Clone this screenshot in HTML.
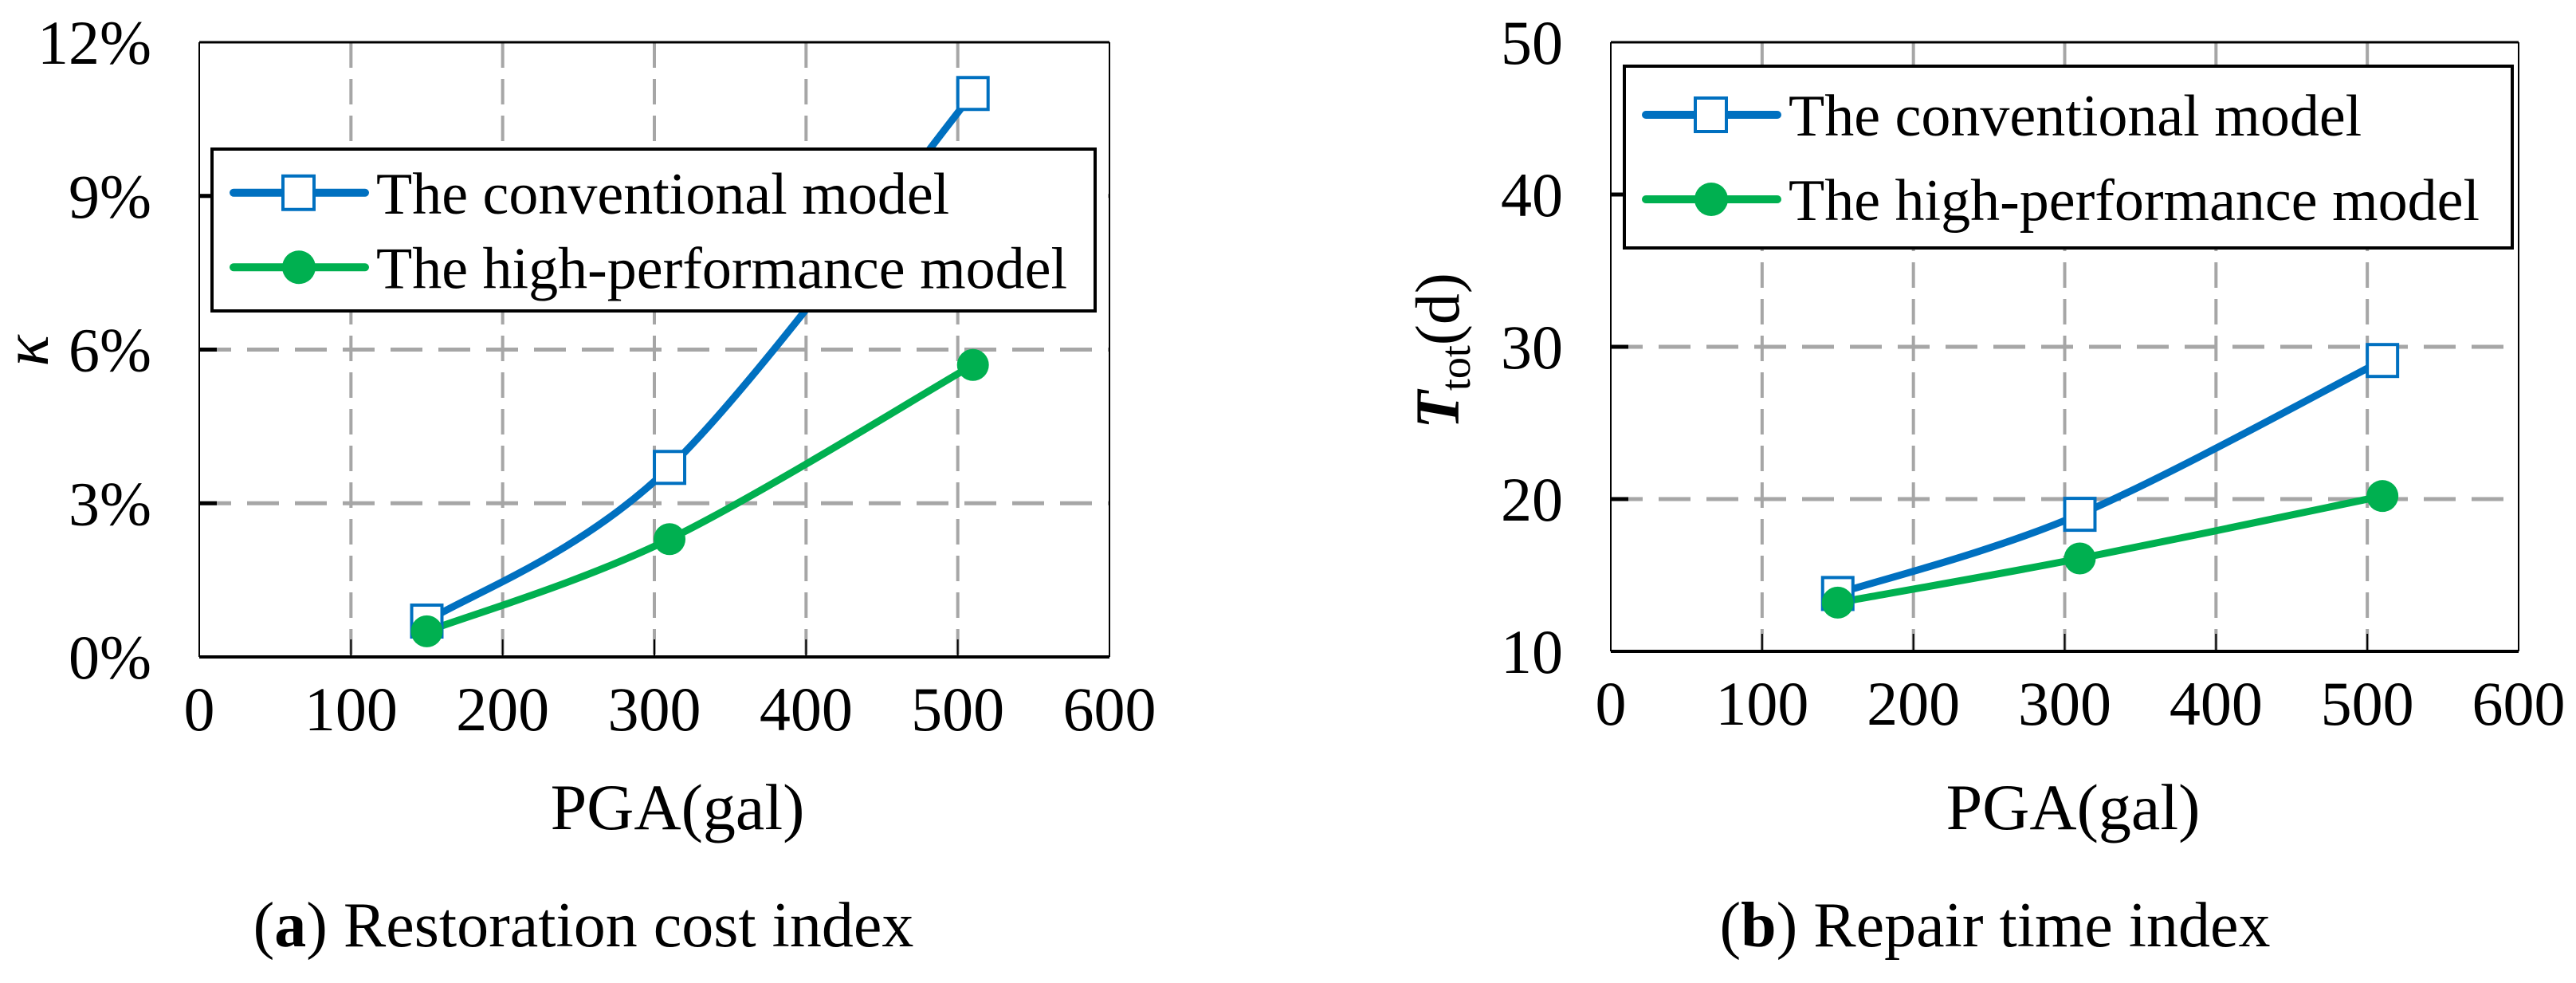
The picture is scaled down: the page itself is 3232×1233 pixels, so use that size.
<!DOCTYPE html>
<html><head><meta charset="utf-8"><style>
html,body{margin:0;padding:0;background:#fff;}
svg{display:block;font-family:"Liberation Serif",serif;}
</style></head><body>
<svg id="fig" width="3232" height="1233" viewBox="0 0 3232 1233" xmlns="http://www.w3.org/2000/svg"></svg>
<script>
const xTicks=[0,100,200,300,400,500,600];
const pga=[150,310,510];
const kTicks=[0,3,6,9,12];
const kConv=[0.7,3.7,11.0];
const kHigh=[0.5,2.3,5.7];
const tTicks=[10,20,30,40,50];
const tConv=[13.8,19.0,29.1];
const tHigh=[13.2,16.1,20.2];
const NS="http://www.w3.org/2000/svg";
const svg=document.getElementById('fig');
function mk(tag,attrs,parent){const e=document.createElementNS(NS,tag);for(const k in attrs)e.setAttribute(k,attrs[k]);(parent||svg).appendChild(e);return e;}
function smooth(pts){let d=`M${pts[0][0]},${pts[0][1]}`;for(let i=0;i<pts.length-1;i++){const p0=pts[i-1]||pts[i],p1=pts[i],p2=pts[i+1],p3=pts[i+2]||p2;const t=0.5/3;d+=` C${p1[0]+(p2[0]-p0[0])*t},${p1[1]+(p2[1]-p0[1])*t} ${p2[0]-(p3[0]-p1[0])*t},${p2[1]-(p3[1]-p1[1])*t} ${p2[0]},${p2[1]}`;}return d;}
function chart(cfg){
  const g=mk('g',{});
  
  
  const X=v=>cfg.x0+(v-0)/600*(cfg.x1-cfg.x0);
  const Y=v=>cfg.yb+(v-cfg.ymin)/(cfg.ymax-cfg.ymin)*(cfg.yt-cfg.yb);
  xTicks.forEach(v=>{if(v===0||v===600)return;const l=mk('line',{x1:X(v),x2:X(v),y1:cfg.yt,y2:cfg.yb,stroke:'#a6a6a6','stroke-width':4,'stroke-dasharray':'32 14'},g);});
  cfg.yTicks.forEach(v=>{if(v===cfg.ymin||v===cfg.ymax)return;const l=mk('line',{x1:cfg.x0,x2:cfg.x1,y1:Y(v),y2:Y(v),stroke:'#a6a6a6','stroke-width':5,'stroke-dasharray':'40 20'},g);
    mk('line',{x1:cfg.x0,x2:cfg.x0+22,y1:Y(v),y2:Y(v),stroke:'#000','stroke-width':5},g);});
  mk('line',{x1:cfg.x0,x2:cfg.x1,y1:cfg.yt,y2:cfg.yt,stroke:'#000','stroke-width':3},g);
  mk('line',{x1:cfg.x1,x2:cfg.x1,y1:cfg.yt,y2:cfg.yb,stroke:'#000','stroke-width':2},g);
  mk('line',{x1:cfg.x0,x2:cfg.x0,y1:cfg.yt,y2:cfg.yb,stroke:'#000','stroke-width':2},g);
  mk('line',{x1:cfg.x0,x2:cfg.x1,y1:cfg.yb,y2:cfg.yb,stroke:'#000','stroke-width':4},g);
  xTicks.forEach(v=>{mk('line',{x1:X(v),x2:X(v),y1:cfg.yb,y2:cfg.yb-22,stroke:'#000','stroke-width':2},g);
    const t=mk('text',{x:X(v),y:cfg.yb+92,'font-size':78,'text-anchor':'middle'},g);t.textContent=v;});
  cfg.yTicks.forEach(v=>{const t=mk('text',{x:cfg.x0-60,y:Y(v)+27,'font-size':78,'text-anchor':'end'},g);t.textContent=v+cfg.suffix;});
  const xl=mk('text',{x:cfg.xlabX,y:1040,'font-size':82,'text-anchor':'middle'},g);xl.textContent='PGA(gal)';
  
  const cap=mk('text',{x:cfg.capX,y:1187,'font-size':80,'text-anchor':'middle'},g);
  cap.innerHTML=`(<tspan font-weight="bold">${cfg.capL}</tspan>) ${cfg.cap}`;
  
  const sc=pga.map((p,i)=>[X(p),Y(cfg.conv[i])]);
  const sh=pga.map((p,i)=>[X(p),Y(cfg.high[i])]);
  const pc=mk('path',{d:smooth(sc),fill:'none',stroke:'#0070c0','stroke-width':9},g);
  
  const ph=mk('path',{d:smooth(sh),fill:'none',stroke:'#00b050','stroke-width':9},g);
  
  sc.forEach(p=>{const r=mk('rect',{x:p[0]-19,y:p[1]-20,width:38,height:40,fill:'#fff',stroke:'#0070c0','stroke-width':4},g);});
  sh.forEach(p=>{const c=mk('circle',{cx:p[0],cy:p[1],r:20,fill:'#00b050'},g);});
  const L=cfg.leg;
  const lg=mk('g',{},g);
  mk('rect',{x:L.x,y:L.y,width:L.w,height:L.h,fill:'#fff',stroke:'#000','stroke-width':4},lg);
  const r1=L.y+L.h*0.25+4, r2=L.y+L.h*0.75-4;
  mk('line',{x1:L.x+27,x2:L.x+192,y1:r1,y2:r1,stroke:'#0070c0','stroke-width':10,'stroke-linecap':'round'},lg);
  mk('rect',{x:L.x+89,y:r1-21,width:39,height:42,fill:'#fff',stroke:'#0070c0','stroke-width':4},lg);
  mk('line',{x1:L.x+27,x2:L.x+192,y1:r2,y2:r2,stroke:'#00b050','stroke-width':10,'stroke-linecap':'round'},lg);
  mk('circle',{cx:L.x+109,cy:r2,r:21,fill:'#00b050'},lg);
  const t1=mk('text',{x:L.x+206,y:r1+26,'font-size':74},lg);t1.textContent='The conventional model';
  
  const t2=mk('text',{x:L.x+206,y:r2+26,'font-size':74},lg);t2.textContent='The high-performance model';
  
  return g;
}
chart({name:'chart-restoration-cost',x0:250,x1:1392,yt:53,yb:824,ymin:0,ymax:12,yTicks:kTicks,suffix:'%',conv:kConv,high:kHigh,xlabX:850,capX:732,capL:'a',cap:'Restoration cost index',leg:{x:266,y:187,w:1108,h:203}});
chart({name:'chart-repair-time',x0:2021,x1:3160,yt:53,yb:817,ymin:10,ymax:50,yTicks:tTicks,suffix:'',conv:tConv,high:tHigh,xlabX:2601,capX:2503,capL:'b',cap:'Repair time index',leg:{x:2038,y:83,w:1114,h:228}});
const ky=mk('text',{x:0,y:0,'font-size':82,'font-style':'italic','text-anchor':'middle',transform:'translate(60,440) rotate(-90)'});ky.textContent='κ';

const ty=mk('text',{x:0,y:0,'font-size':78,'text-anchor':'middle',transform:'translate(1830,440) rotate(-90)'});
ty.innerHTML='<tspan font-style="italic" font-weight="bold">T</tspan><tspan font-size="54" dy="14">tot</tspan><tspan dy="-14">(d)</tspan>';

</script>
</body></html>
